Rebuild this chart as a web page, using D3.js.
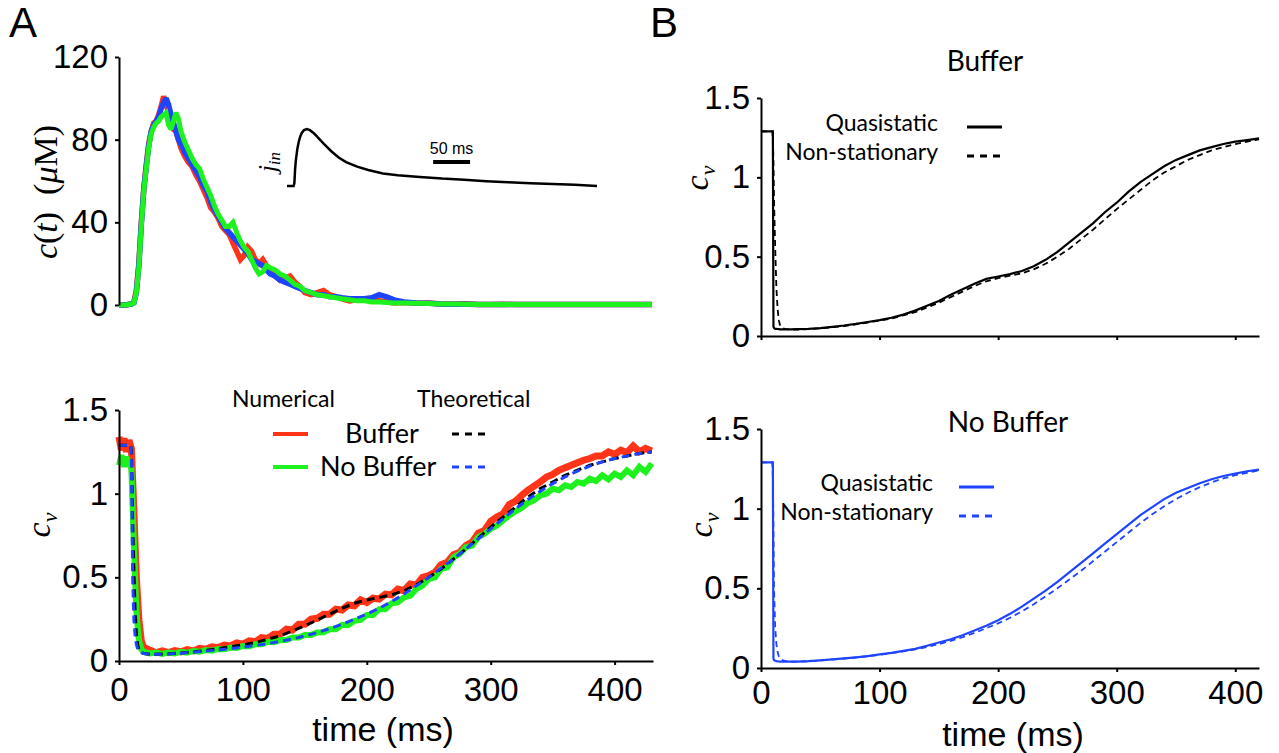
<!DOCTYPE html>
<html><head><meta charset="utf-8">
<script src="https://cdn.jsdelivr.net/npm/d3@7"></script>
<style>
html,body{margin:0;padding:0;background:#fff;}
svg{display:block;}
.tick text{font-family:"Liberation Sans",Arial,sans-serif;}
</style></head>
<body>
<svg id="chart" width="1279" height="753"></svg>
<script>
// ---------------- DATA ----------------
const timeTicks = [0, 100, 200, 300, 400];
const caTicks = [0, 40, 80, 120];
const cvTicks = [0, 0.5, 1, 1.5];
const cvTickLabels = ["0", "0.5", "1", "1.5"];

// Panel A top: concentration traces c(t) in µM, [time ms, value]
const caRed = [[0,0],[5,0],[10,0.5],[12,1.5],[14,7],[16,20],[18,40],[20,56],[22,68],[24,78],[26,84],[28,88],[30,89],[32,92],[34,96],[36,101],[38,97],[40,93],[42,88],[44,85],[46,84],[48,80],[50,76],[53,72],[56,69],[59,67],[62,63],[65,60],[68,56],[71,52],[74,47],[77,45],[80,42],[83,38],[86,36],[89,34],[92,30],[95,26],[98,22],[101,24],[104,28],[107,26],[110,22],[113,20],[116,22],[119,19],[122,16],[126,14],[130,12],[134,13],[138,14],[142,11],[146,9],[150,6],[155,5],[160,6],[165,7],[170,5],[175,4],[180,3],[186,2],[192,2.5],[198,3],[204,2],[210,2],[216,1.5],[222,1],[230,1.2],[240,0.8],[250,1],[260,0.5],[270,0.5],[280,0.6],[290,0.3],[300,0.3],[310,0.4],[320,0.2],[330,0.3],[340,0.2],[350,0.3],[360,0.2],[370,0.2],[380,0.3],[390,0.2],[400,0.2],[410,0.3],[420,0.2],[430,0.2]];
const caBlue = [[0,0],[5,0],[10,0.5],[12,1],[14,6],[16,19],[18,39],[20,56],[22,67],[24,77],[26,84],[28,87],[30,89],[32,91],[34,95],[36,98],[38,100],[40,97],[42,92],[44,88],[46,84],[48,80],[50,78],[53,74],[56,71],[59,68],[62,65],[65,62],[68,58],[71,55],[74,50],[77,46],[80,43],[83,40],[86,37],[89,35],[92,33],[95,31],[98,29],[101,27],[104,25],[107,22],[110,21],[113,20],[116,19],[119,17],[122,15],[126,14],[130,12],[134,11],[138,10],[142,9],[146,8],[150,7],[155,6],[160,5],[165,5],[170,4],[175,4],[180,3.5],[186,3],[192,3],[198,3],[204,3.5],[210,5],[216,4],[222,2.5],[230,1.5],[240,1],[250,0.8],[260,0.5],[270,0.4],[280,0.4],[290,0.3],[300,0.3],[310,0.3],[320,0.2],[330,0.2],[340,0.2],[350,0.2],[360,0.2],[370,0.2],[380,0.2],[390,0.2],[400,0.2],[410,0.2],[420,0.2],[430,0.2]];
const caGreen = [[0,0],[5,0],[10,0.5],[12,1],[14,6],[16,18],[18,38],[20,55],[22,66],[24,76],[26,83],[28,86],[30,88],[32,89],[34,91],[36,92],[38,93],[40,87],[42,85],[44,89],[46,93],[48,90],[50,84],[53,79],[56,75],[59,71],[62,68],[65,66],[68,61],[71,57],[74,53],[77,48],[80,44],[83,41],[86,38],[89,38],[92,40],[95,35],[98,31],[101,28],[104,26],[107,22],[110,18],[113,15],[116,16],[119,19],[122,18],[126,17],[130,15],[134,14],[138,12],[142,10],[146,9],[150,7],[155,6],[160,5],[165,4.5],[170,4],[175,3.5],[180,3],[186,2.5],[192,2],[198,2],[204,1.5],[210,1.5],[216,1.2],[222,1],[230,1],[240,0.8],[250,0.7],[260,0.5],[270,0.5],[280,0.4],[290,0.3],[300,0.3],[310,0.3],[320,0.2],[330,0.2],[340,0.2],[350,0.2],[360,0.2],[370,0.2],[380,0.2],[390,0.2],[400,0.2],[410,0.2],[420,0.2],[430,0.2]];

// Inset: input flux j_in (normalised), [time ms, value]
const jIn = [[0,0],[9,0],[10,0.05],[11,0.3],[12,0.45],[14,0.65],[16,0.78],[18,0.87],[20,0.93],[23,0.98],[27,1.0],[31,0.98],[36,0.93],[42,0.85],[50,0.74],[60,0.61],[70,0.5],[80,0.42],[95,0.34],[110,0.28],[130,0.22],[150,0.19],[180,0.16],[210,0.13],[240,0.11],[270,0.085],[300,0.065],[330,0.05],[360,0.035],[390,0.02],[420,0.0]];
const scaleBarMs = 50;

// Panel A bottom: numerical c_v, [time ms, value]
const cvNumBuffer = [[0,1.34],[2,1.26],[4,1.33],[6,1.25],[8,1.32],[10,1.27],[12,0.9],[14,0.5],[16,0.25],[18,0.12],[20,0.08],[25,0.065],[30,0.05],[35,0.06],[40,0.05],[45,0.062],[50,0.055],[55,0.068],[60,0.06],[65,0.075],[70,0.07],[75,0.085],[80,0.08],[85,0.095],[90,0.09],[95,0.108],[100,0.1],[105,0.12],[110,0.115],[115,0.14],[120,0.135],[125,0.16],[130,0.16],[135,0.19],[140,0.185],[145,0.22],[150,0.22],[155,0.25],[160,0.255],[165,0.28],[170,0.28],[175,0.31],[180,0.305],[185,0.335],[190,0.33],[195,0.365],[200,0.35],[205,0.375],[210,0.37],[215,0.4],[220,0.395],[225,0.43],[230,0.42],[235,0.46],[240,0.455],[245,0.5],[250,0.51],[255,0.53],[260,0.575],[265,0.59],[270,0.635],[275,0.65],[280,0.69],[285,0.71],[290,0.765],[295,0.78],[300,0.835],[305,0.86],[310,0.88],[315,0.935],[320,0.955],[325,0.99],[330,1.02],[335,1.045],[340,1.07],[345,1.1],[350,1.115],[355,1.14],[360,1.155],[365,1.17],[370,1.185],[375,1.2],[380,1.21],[385,1.225],[390,1.225],[395,1.25],[400,1.235],[405,1.26],[410,1.245],[415,1.285],[420,1.25],[425,1.27],[430,1.255]];
const cvNumNoBuffer = [[0,1.17],[2,1.23],[4,1.16],[6,1.22],[8,1.18],[10,1.15],[12,0.7],[14,0.3],[16,0.13],[18,0.07],[20,0.055],[25,0.045],[30,0.05],[35,0.042],[40,0.05],[45,0.045],[50,0.055],[55,0.05],[60,0.06],[65,0.055],[70,0.065],[75,0.062],[80,0.072],[85,0.07],[90,0.08],[95,0.078],[100,0.09],[105,0.088],[110,0.1],[115,0.1],[120,0.115],[125,0.112],[130,0.125],[135,0.125],[140,0.14],[145,0.14],[150,0.155],[155,0.155],[160,0.17],[165,0.172],[170,0.19],[175,0.19],[180,0.215],[185,0.215],[190,0.24],[195,0.245],[200,0.275],[205,0.275],[210,0.31],[215,0.31],[220,0.345],[225,0.35],[230,0.38],[235,0.39],[240,0.43],[245,0.45],[250,0.49],[255,0.5],[260,0.55],[265,0.56],[270,0.62],[275,0.64],[280,0.68],[285,0.69],[290,0.74],[295,0.76],[300,0.79],[305,0.81],[310,0.84],[315,0.87],[320,0.895],[325,0.915],[330,0.945],[335,0.96],[340,0.99],[345,1.0],[350,1.03],[355,1.02],[360,1.05],[365,1.04],[370,1.07],[375,1.06],[380,1.09],[385,1.075],[390,1.11],[395,1.085],[400,1.12],[405,1.1],[410,1.14],[415,1.11],[420,1.16],[425,1.13],[430,1.18]];

// Theoretical c_v curves
const tTheory = [0,9.5,10,10.5,11,12,13,14,15,16,18,20,25,30,40,50,60,70,80,90,100,110,120,130,140,150,160,170,180,190,200,210,220,230,240,250,260,270,280,290,300,310,320,330,340,350,360,370,380,390,400,410,420,430];
const cvQsBuffer   = [1.29,1.29,1.29,0.06,0.05,0.045,0.045,0.044,0.043,0.042,0.042,0.042,0.042,0.043,0.045,0.05,0.058,0.066,0.076,0.088,0.10,0.115,0.135,0.16,0.19,0.22,0.26,0.295,0.33,0.36,0.375,0.39,0.41,0.44,0.48,0.53,0.59,0.65,0.71,0.78,0.84,0.91,0.97,1.02,1.07,1.11,1.14,1.17,1.19,1.21,1.225,1.235,1.245,1.25];
const cvNsBuffer   = [1.29,1.29,1.25,1.1,0.85,0.55,0.3,0.17,0.1,0.07,0.05,0.045,0.04,0.04,0.043,0.048,0.055,0.063,0.073,0.085,0.097,0.11,0.13,0.15,0.18,0.21,0.245,0.28,0.315,0.345,0.365,0.38,0.395,0.42,0.455,0.50,0.55,0.61,0.67,0.735,0.80,0.86,0.92,0.98,1.03,1.07,1.11,1.14,1.17,1.19,1.21,1.225,1.24,1.25];
const cvQsNoBuffer = [1.29,1.29,1.29,0.06,0.05,0.045,0.043,0.042,0.041,0.04,0.04,0.04,0.04,0.04,0.043,0.048,0.054,0.06,0.067,0.075,0.085,0.095,0.107,0.12,0.14,0.16,0.18,0.205,0.235,0.265,0.30,0.34,0.385,0.435,0.485,0.54,0.60,0.66,0.72,0.78,0.84,0.90,0.96,1.01,1.06,1.10,1.13,1.16,1.185,1.205,1.22,1.235,1.245,1.25];
const cvNsNoBuffer = [1.29,1.29,1.2,0.9,0.5,0.25,0.15,0.1,0.075,0.06,0.05,0.045,0.04,0.04,0.042,0.047,0.053,0.059,0.066,0.074,0.083,0.093,0.104,0.117,0.132,0.15,0.17,0.193,0.22,0.25,0.28,0.315,0.355,0.40,0.45,0.50,0.555,0.61,0.67,0.73,0.79,0.85,0.91,0.965,1.015,1.06,1.10,1.135,1.165,1.19,1.21,1.225,1.24,1.25];

const colRed = "#ff3418", colGreen = "#1ef21e", colBlue = "#1f44ff", colBlack = "#000";

// ---------------- DRAW ----------------
const svg = d3.select("#chart");
svg.append("rect").attr("width",1279).attr("height",753).attr("fill","#fff");

const xA = d3.scaleLinear().domain([0, 431]).range([119, 653]);
const yCa = d3.scaleLinear().domain([0, 120]).range([305, 57]);
const yCvA = d3.scaleLinear().domain([0, 1.5]).range([661, 410]);
const xB = d3.scaleLinear().domain([0, 420]).range([761, 1259]);
const yB1 = d3.scaleLinear().domain([0, 1.5]).range([336, 98]);
const yB2 = d3.scaleLinear().domain([0, 1.5]).range([668, 429]);
const xIn = d3.scaleLinear().domain([0, 420]).range([287, 597]);
const yIn = d3.scaleLinear().domain([0, 1]).range([186, 129]);

const pairs = (ts, vs) => ts.map((t,i)=>[t, vs[i]]);
function drawLine(data, x, y, color, width, dash){
  const maxT = x.domain()[1] + 0.5;
  const d = data.filter(p => p[0] <= maxT);
  svg.append("path").datum(d)
    .attr("d", d3.line().x(p=>x(p[0])).y(p=>y(p[1])))
    .attr("fill","none").attr("stroke",color).attr("stroke-width",width)
    .attr("stroke-linejoin","miter").attr("stroke-miterlimit",2)
    .attr("stroke-dasharray", dash || null);
}
function styleAxis(g, fs){
  g.select(".domain").attr("stroke","#000").attr("stroke-width",2);
  g.selectAll(".tick line").attr("stroke","#000").attr("stroke-width",2);
  g.selectAll(".tick text").attr("font-size",fs).attr("fill","#000");
}
function yAxis(scale, ticks, labels, x){
  const g = svg.append("g").attr("transform",`translate(${x},0)`)
    .call(d3.axisLeft(scale).tickValues(ticks).tickSize(4).tickSizeOuter(0).tickPadding(7)
      .tickFormat((d,i)=>labels[i]));
  styleAxis(g, 33);
  return g;
}
function xAxis(scale, y, showLabels, pad){
  const g = svg.append("g").attr("transform",`translate(0,${y})`)
    .call(d3.axisBottom(scale).tickValues(timeTicks).tickSize(4).tickSizeOuter(0).tickPadding(pad)
      .tickFormat(showLabels ? d3.format("d") : ()=>""));
  styleAxis(g, 33);
  return g;
}

// Panel letters
svg.append("text").attr("x",9).attr("y",37).attr("font-family","Liberation Sans, Arial").attr("font-size",42).text("A");
svg.append("text").attr("x",650).attr("y",37).attr("font-family","Liberation Sans, Arial").attr("font-size",42).text("B");

// ---- Panel A top ----
drawLine(caRed, xA, yCa, colRed, 5.5);
drawLine(caBlue, xA, yCa, colBlue, 5.5);
drawLine(caGreen, xA, yCa, colGreen, 5);
yAxis(yCa, caTicks, caTicks.map(String), 119);

// y label c(t) (μM)
const lab1 = svg.append("text").attr("transform","translate(57,192) rotate(-90)")
  .attr("text-anchor","middle").attr("font-family","Liberation Serif, serif").attr("font-size",34);
lab1.append("tspan").attr("font-style","italic").text("c");
lab1.append("tspan").text("(");
lab1.append("tspan").attr("font-style","italic").text("t");
lab1.append("tspan").text(")\u2002(");
lab1.append("tspan").attr("font-style","italic").text("\u03bc");
lab1.append("tspan").text("M)");

// inset
drawLine(jIn, xIn, yIn, colBlack, 2.5);
svg.append("line").attr("x1",xIn(198)).attr("x2",xIn(198+scaleBarMs)).attr("y1",162).attr("y2",162)
  .attr("stroke","#000").attr("stroke-width",4);
svg.append("text").attr("x",(xIn(198)+xIn(198+scaleBarMs))/2).attr("y",154).attr("text-anchor","middle")
  .attr("font-family","Liberation Sans, Arial").attr("font-size",16).text(scaleBarMs + " ms");
const jl = svg.append("text").attr("transform","translate(276,162) rotate(-90)")
  .attr("text-anchor","middle").attr("font-family","Liberation Serif, serif").attr("font-size",25).attr("font-style","italic");
jl.append("tspan").text("j");
jl.append("tspan").attr("font-size",17).attr("dy",4).text("in");

// ---- Panel A bottom ----
drawLine(cvNumBuffer, xA, yCvA, colRed, 7);
drawLine(cvNumNoBuffer, xA, yCvA, colGreen, 6);
drawLine(pairs(tTheory, cvNsBuffer), xA, yCvA, colBlack, 3, "8,5");
drawLine(pairs(tTheory, cvNsNoBuffer), xA, yCvA, colBlue, 3, "8,5");
yAxis(yCvA, cvTicks, cvTickLabels, 119);
xAxis(xA, 661, true, 13);
svg.append("text").attr("x",383).attr("y",741).attr("text-anchor","middle")
  .attr("font-family","Liberation Sans, Arial").attr("font-size",34).text("time (ms)");

function cvLabel(x, y){
  const t = svg.append("text").attr("transform",`translate(${x},${y}) rotate(-90)`)
    .attr("text-anchor","middle").attr("font-family","Liberation Serif, serif").attr("font-size",34).attr("font-style","italic");
  t.append("tspan").text("c");
  t.append("tspan").attr("font-size",22).attr("dy",7).text("v");
}
cvLabel(50, 525);

// legend A bottom
const lf = "Lato, 'Open Sans', sans-serif";
svg.append("text").attr("x",232).attr("y",407).attr("font-family",lf).attr("font-size",23).text("Numerical");
svg.append("text").attr("x",417).attr("y",407).attr("font-family",lf).attr("font-size",23).text("Theoretical");
svg.append("line").attr("x1",273).attr("x2",308).attr("y1",434).attr("y2",434).attr("stroke",colRed).attr("stroke-width",4);
svg.append("line").attr("x1",273).attr("x2",308).attr("y1",467).attr("y2",467).attr("stroke",colGreen).attr("stroke-width",4);
svg.append("text").attr("x",345).attr("y",443).attr("font-family",lf).attr("font-size",27).text("Buffer");
svg.append("text").attr("x",320).attr("y",476).attr("font-family",lf).attr("font-size",27).text("No Buffer");
svg.append("line").attr("x1",452).attr("x2",488).attr("y1",434).attr("y2",434).attr("stroke",colBlack).attr("stroke-width",3).attr("stroke-dasharray","7,6");
svg.append("line").attr("x1",452).attr("x2",488).attr("y1",467).attr("y2",467).attr("stroke",colBlue).attr("stroke-width",3).attr("stroke-dasharray","7,6");

// ---- Panel B top ----
drawLine(pairs(tTheory, cvQsBuffer), xB, yB1, colBlack, 2.2);
drawLine(pairs(tTheory, cvNsBuffer), xB, yB1, colBlack, 1.8, "6,4");
yAxis(yB1, cvTicks, cvTickLabels, 761);
xAxis(xB, 336, false, 8);
cvLabel(708, 178);
svg.append("text").attr("x",985).attr("y",71).attr("text-anchor","middle").attr("font-family",lf).attr("font-size",28).text("Buffer");
svg.append("text").attr("x",938).attr("y",131).attr("text-anchor","end").attr("font-family",lf).attr("font-size",23).text("Quasistatic");
svg.append("text").attr("x",938).attr("y",160).attr("text-anchor","end").attr("font-family",lf).attr("font-size",23).text("Non-stationary");
svg.append("line").attr("x1",967).attr("x2",1002).attr("y1",127).attr("y2",127).attr("stroke",colBlack).attr("stroke-width",3);
svg.append("line").attr("x1",967).attr("x2",1002).attr("y1",156).attr("y2",156).attr("stroke",colBlack).attr("stroke-width",3).attr("stroke-dasharray","7,6");

// ---- Panel B bottom ----
drawLine(pairs(tTheory, cvQsNoBuffer), xB, yB2, colBlue, 2.2);
drawLine(pairs(tTheory, cvNsNoBuffer), xB, yB2, colBlue, 1.8, "6,4");
yAxis(yB2, cvTicks, cvTickLabels, 761);
xAxis(xB, 668, true, 9);
cvLabel(712, 525);
svg.append("text").attr("x",1013).attr("y",746).attr("text-anchor","middle")
  .attr("font-family","Liberation Sans, Arial").attr("font-size",34).text("time (ms)");
svg.append("text").attr("x",1008).attr("y",432).attr("text-anchor","middle").attr("font-family",lf).attr("font-size",28).text("No Buffer");
svg.append("text").attr("x",933).attr("y",491).attr("text-anchor","end").attr("font-family",lf).attr("font-size",23).text("Quasistatic");
svg.append("text").attr("x",933).attr("y",520).attr("text-anchor","end").attr("font-family",lf).attr("font-size",23).text("Non-stationary");
svg.append("line").attr("x1",959).attr("x2",994).attr("y1",487).attr("y2",487).attr("stroke",colBlue).attr("stroke-width",3);
svg.append("line").attr("x1",959).attr("x2",994).attr("y1",516).attr("y2",516).attr("stroke",colBlue).attr("stroke-width",3).attr("stroke-dasharray","7,6");
</script>
</body></html>
